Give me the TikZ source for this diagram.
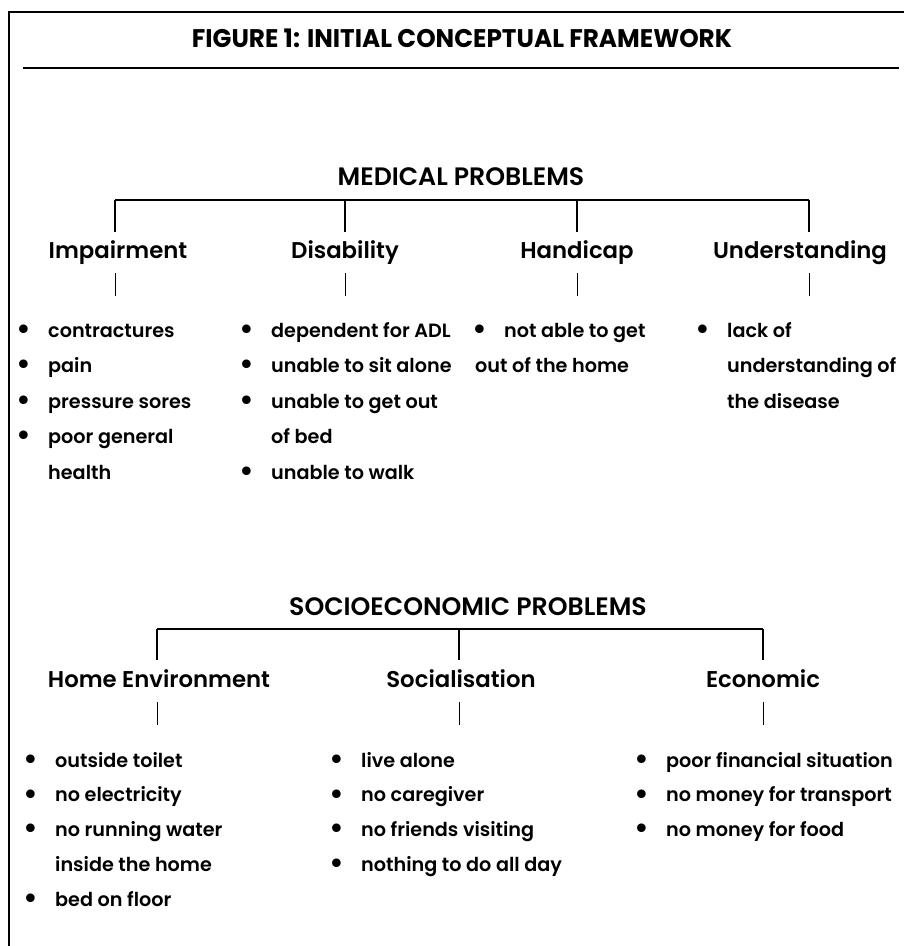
\documentclass[tikz,border=0pt]{standalone}
\usepackage{fontspec}
\setmainfont{Poppins}[UprightFont={* SemiBold},BoldFont={* Bold}]
\usetikzlibrary{positioning}

% bullet line and continuation line of a list
\newcommand{\blt}[1]{\makebox[0pt][c]{\raisebox{-2.4pt}{\scalebox{1.6}{\textbullet}}}\hspace{24pt}#1}
\newcommand{\cnt}[1]{\hspace{24pt}#1}

\begin{document}
\begin{tikzpicture}[x=1pt, y=-1pt,
    frame/.style={line width=2pt},
    tree/.style={line width=1.3pt},
    stub/.style={line width=1pt},
    groupname/.style={inner sep=0pt, anchor=base, font=\fontsize{25.2}{24}\selectfont},
    head/.style={inner sep=0pt, anchor=base, text height=18pt, text depth=6pt, font=\fontsize{22.8}{24}\selectfont},
    item/.style={inner sep=0pt, anchor=base west, font=\fontsize{19.2}{20}\selectfont}
]
\useasboundingbox (0,0) rectangle (904,946);

% frame and title
\draw[frame] (9,946) -- (9,12) -- (904,12);
\node[inner sep=0pt, anchor=base, font=\fontsize{25.5}{24}\selectfont\bfseries] (title) at (462,47)
    {\scalebox{0.97}[1]{FIGURE 1: INITIAL CONCEPTUAL FRAMEWORK}};
\draw[line width=1.5pt] (23,68) -- (899,68);

% medical problems
\node[groupname] (med) at (461,185) {MEDICAL PROBLEMS};
\node[head] (imp) at (118,258) {Impairment};
\node[head] (dis) at (345,258) {Disability};
\node[head] (hand) at (577,258) {Handicap};
\node[head] (und) at (800,258) {Understanding};
\coordinate (mb-imp) at (115,200);
\coordinate (mb-dis) at (345,200);
\coordinate (mb-hand) at (577,200);
\coordinate (mb-und) at (809,200);
\draw[tree] (mb-imp) -- (mb-und);
\foreach \n in {imp, dis, hand, und} {
    \draw[tree] (mb-\n) -- ([yshift=8pt]mb-\n |- \n.north);
    \draw[stub] ([yshift=-9pt]mb-\n |- \n.south) -- ++(0,23);
}

\foreach \txt [count=\i] in {\blt{contractures}, \blt{pain}, \blt{pressure sores}, \blt{poor general}, \cnt{health}}
    \node[item] (imp\i) at (24,{337+35.5*(\i-1)}) {\txt};
\foreach \txt [count=\i] in {\blt{dependent for ADL}, \blt{unable to sit alone}, \blt{unable to get out}, \cnt{of bed}, \blt{unable to walk}}
    \node[item] (dis\i) at (247,{337+35.5*(\i-1)}) {\txt};
\node[item] (hand1) at (480,337) {\blt{not able to get}};
\node[item] (hand2) at (475,372.5) {out of the home};
\foreach \txt [count=\i] in {\blt{lack of}, \cnt{understanding of}, \cnt{the disease}}
    \node[item] (und\i) at (703,{337+35.5*(\i-1)}) {\txt};

% socioeconomic problems
\node[groupname] (soc) at (468,615) {SOCIOECONOMIC PROBLEMS};
\node[head] (home) at (159,687) {Home Environment};
\node[head] (social) at (461,687) {Socialisation};
\node[head] (econ) at (763,687) {Economic};
\coordinate (sb-home) at (157,629);
\coordinate (sb-social) at (459,629);
\coordinate (sb-econ) at (763,629);
\draw[tree] (sb-home) -- (sb-econ);
\foreach \n in {home, social, econ} {
    \draw[tree] (sb-\n) -- ([yshift=9pt]sb-\n |- \n.north);
    \draw[stub] ([yshift=-9pt]sb-\n |- \n.south) -- ++(0,23);
}

\foreach \txt [count=\i] in {\blt{outside toilet}, \blt{no electricity}, \blt{no running water}, \cnt{inside the home}, \blt{bed on floor}}
    \node[item] (home\i) at (31,{767+34.75*(\i-1)}) {\txt};
\foreach \txt [count=\i] in {\blt{live alone}, \blt{no caregiver}, \blt{no friends visiting}, \blt{nothing to do all day}}
    \node[item] (social\i) at (337,{767+34.75*(\i-1)}) {\txt};
\foreach \txt [count=\i] in {\blt{poor financial situation}, \blt{no money for transport}, \blt{no money for food}}
    \node[item] (econ\i) at (642,{767+34.75*(\i-1)}) {\txt};
\end{tikzpicture}
\end{document}
